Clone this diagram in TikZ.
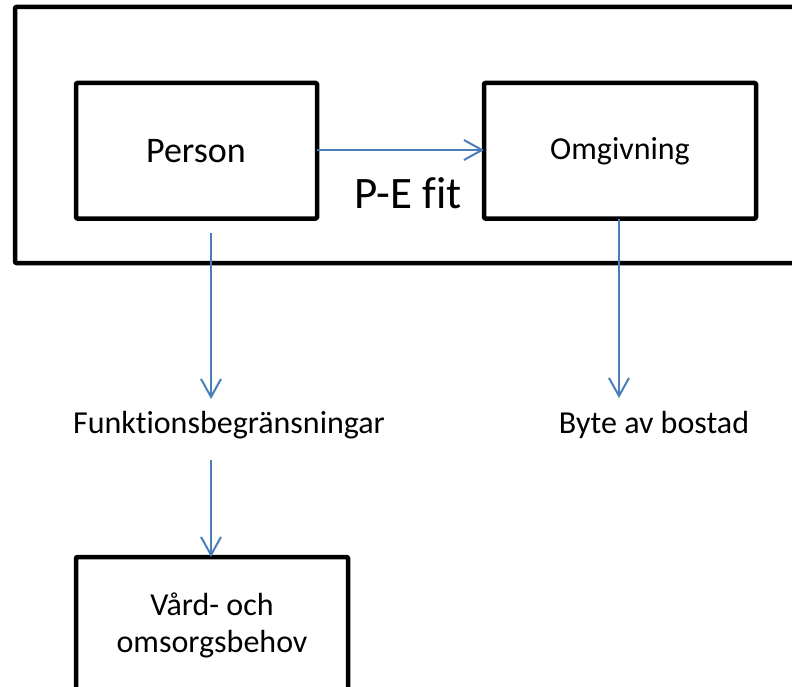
\documentclass[tikz,border=0pt]{standalone}
\usepackage{fontspec}
\setmainfont[RawFeature={-liga}]{Carlito}
\usetikzlibrary{arrows.meta}
\definecolor{offblue}{HTML}{4A7EBB}
\tikzset{
  box/.style={draw=black, line width=4.5pt, line join=round, rounded corners=1pt},
  lbl/.style={inner sep=0pt, font=\fontsize{32}{37}\selectfont},
  arr/.style={draw=offblue, line width=2pt, -{Straight Barb[length=18pt,width=20pt,line width=2pt]}}
}
\begin{document}
\begin{tikzpicture}[x=1pt,y=-1pt]
\useasboundingbox (0,0) rectangle (792,687);
\clip (0,0) rectangle (792,687);
% outer frame
\draw[box] (15,7) rectangle (830,263);
% boxes
\draw[box] (76,83) rectangle (317,218.5);
\node[inner sep=0pt, font=\fontsize{36}{40}\selectfont] (person) at (196,151) {Person};
\coordinate (pe) at (317,150);
\draw[box] (484,83) rectangle (756,218.5);
\node[lbl] (omg) at (620,151) {Omgivning};
\coordinate (ow) at (484,150);
\node[inner sep=0pt, font=\fontsize{45}{50}\selectfont, anchor=base] (pefit) at (408,208) {P-E fit};
\draw[arr] (pe) -- (ow);
% labels
\node[lbl, anchor=base] (funk) at (229,433) {Funktionsbegränsningar};
\node[lbl, anchor=base] (byte) at (654,433) {Byte av bostad};
% bottom box
\draw[box] (76,557) rectangle (348,720);
\node[lbl, align=center, anchor=base] (vard) at (212,652) {Vård- och\\omsorgsbehov};
% arrows
\coordinate (p1) at (211,233);
\coordinate (p2) at (211,399);
\coordinate (p3) at (211,460);
\coordinate (p4) at (211,557);
\coordinate (o1) at (619,219);
\coordinate (o2) at (619,398);
\draw[arr] (p1) -- (p2);
\draw[arr] (p3) -- (p4);
\draw[arr] (o1) -- (o2);
\end{tikzpicture}
\end{document}
